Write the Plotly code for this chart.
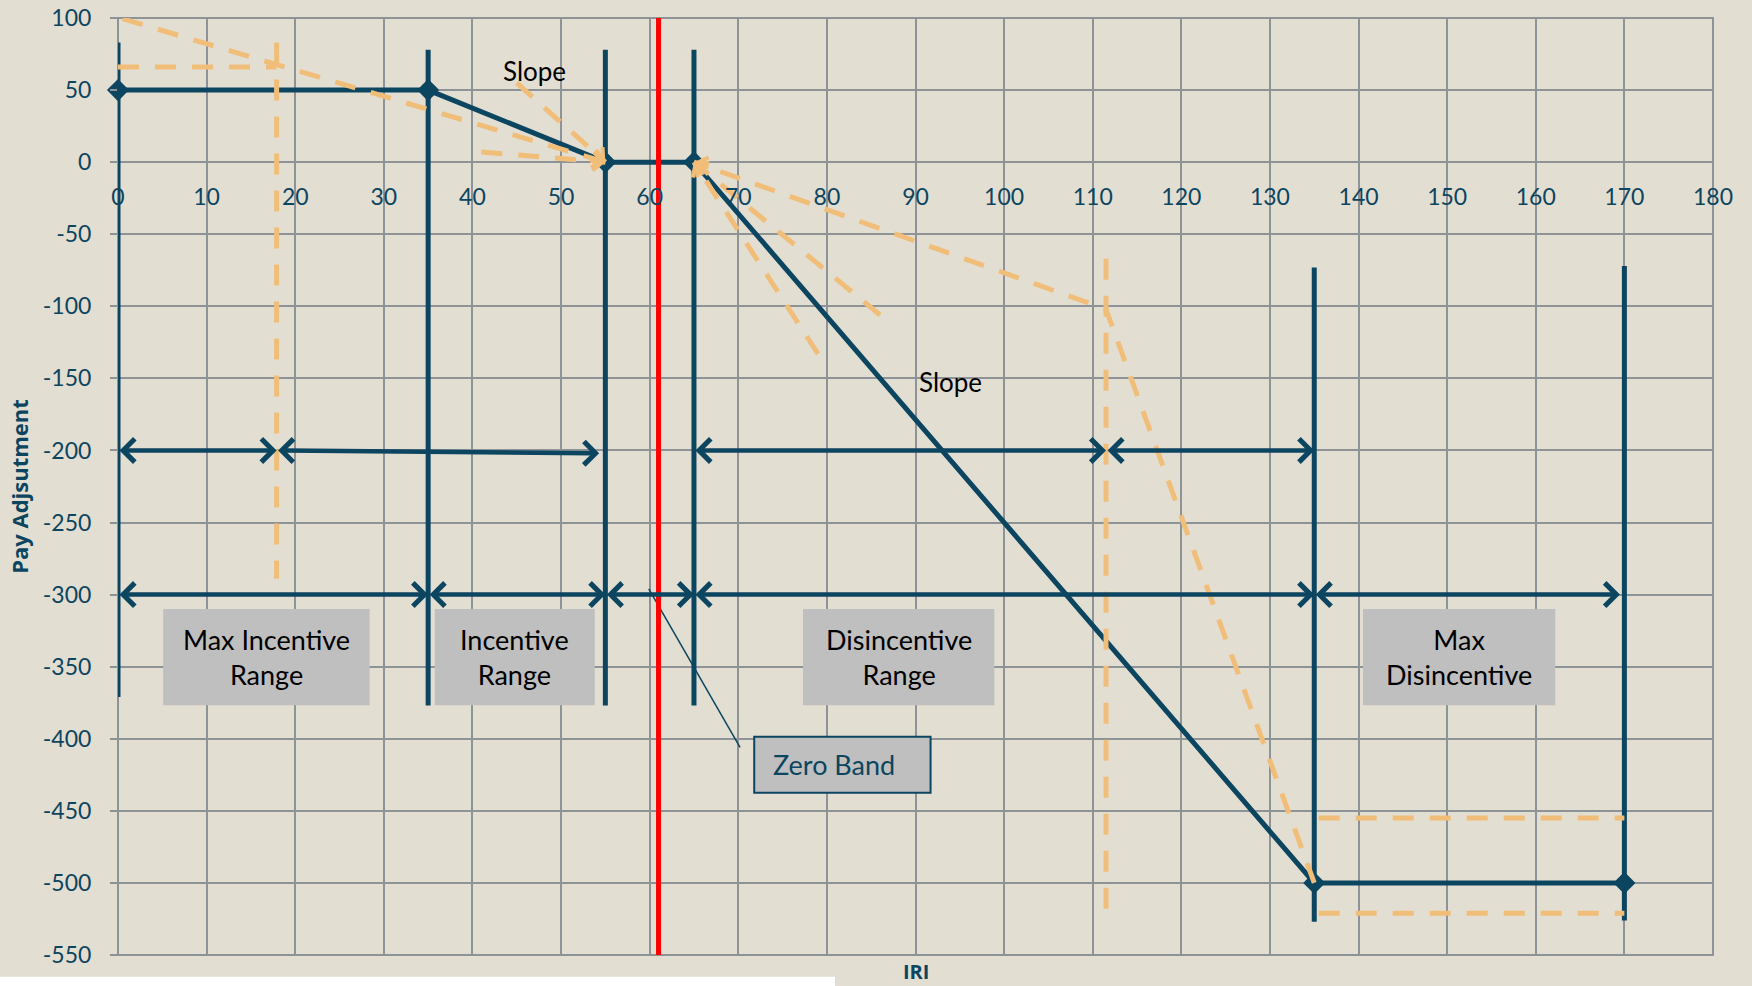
import math
import plotly.graph_objects as go

# ---------------- data ----------------
# pay adjustment schedule (IRI -> pay adjustment)
schedule_iri = [0, 35, 55, 65, 135, 170]
schedule_pay = [50, 50, 0, 0, -500, -500]

# vertical range boundary bars
bar_iri = [0, 35, 55, 65, 135, 170]
bar_top = [83, 78, 78, 78, -73, -72]
bar_bottom = [-371, -377, -377, -377, -527, -526]

# red reference line
red_iri = 61
red_pay = [100, -555]

# double arrows at -200
upper_arrow_start = [0, 17.9, 65, 111.5]
upper_arrow_end = [17.9, 54.3, 111.5, 135]
upper_arrow_pay_start = [-200, -200, -200, -200]
upper_arrow_pay_end = [-200, -202, -200, -200]

# double arrows at -300
lower_arrow_start = [0, 35, 55, 65, 135]
lower_arrow_end = [35, 55, 65, 135, 169.5]
lower_arrow_pay = -300

# orange dashed guide lines (last point = arrow tip where flagged)
guide_diag_incentive_x = [0.5, 55]
guide_diag_incentive_y = [99.5, 0]
guide_max_level_x = [0, 17.9]
guide_max_level_y = [66, 66]
guide_max_limit_x = [17.9, 17.9]
guide_max_limit_y = [83, -289]
guide_slope1_x = [45, 55]
guide_slope1_y = [55, 0]
guide_flat_x = [41, 55]
guide_flat_y = [7, 0]
guide_long_x = [135, 111.5, 65]
guide_long_y = [-500, -102, 0]
guide_steep_x = [79, 65]
guide_steep_y = [-133, 0]
guide_mid_x = [86, 65]
guide_mid_y = [-106, 0]
guide_dis_limit_x = [111.5, 111.5]
guide_dis_limit_y = [-67, -521]
guide_upper_band_x = [135.5, 170]
guide_upper_band_y = [-455, -455]
guide_lower_band_x = [135.5, 170]
guide_lower_band_y = [-521, -521]

guides = [
    (guide_diag_incentive_x, guide_diag_incentive_y, True),
    (guide_max_level_x, guide_max_level_y, False),
    (guide_max_limit_x, guide_max_limit_y, False),
    (guide_slope1_x, guide_slope1_y, True),
    (guide_flat_x, guide_flat_y, True),
    (guide_long_x, guide_long_y, True),
    (guide_steep_x, guide_steep_y, True),
    (guide_mid_x, guide_mid_y, True),
    (guide_dis_limit_x, guide_dis_limit_y, False),
    (guide_upper_band_x, guide_upper_band_y, False),
    (guide_lower_band_x, guide_lower_band_y, False),
]

# range label boxes
box_labels = ["Max Incentive<br>Range", "Incentive<br>Range", "Disincentive<br>Range", "Max<br>Disincentive"]
box_x0 = [5.1, 35.75, 77.3, 140.5]
box_x1 = [28.4, 53.8, 98.9, 162.2]
box_y0 = [-310, -310, -310, -310]
box_y1 = [-376.7, -376.7, -376.7, -376.7]

zero_label = "Zero Band"
zero_box_x = [71.8, 91.7]
zero_box_y = [-398.6, -437.4]
zero_leader_x = [59.9, 70.2]
zero_leader_y = [-296, -406]

slope_labels = ["Slope", "Slope"]
slope_x = [47.0, 94.0]
slope_y = [63, -152.5]

x_ticks = list(range(0, 181, 10))
y_ticks = list(range(-550, 101, 50))
y_tick_text = [str(v) for v in y_ticks]

# ---------------- style ----------------
W, H = 1752, 986
ML, MR, MT, MB = 118, 39, 18, 31
BG = "#E3DED2"
GRID = "#8E9398"
TEAL = "#0C4560"
ORANGE = "rgb(241,190,122)"
XR = [0, 180]
YR = [-550, 100]
PW, PH = W - ML - MR, H - MT - MB
px_x = PW / (XR[1] - XR[0])
px_y = PH / (YR[1] - YR[0])

fig = go.Figure()

# boundary bars
bx, by = [], []
for xv, t, b in zip(bar_iri, bar_top, bar_bottom):
    bx += [xv, xv, None]
    by += [t, b, None]
fig.add_trace(go.Scatter(x=bx, y=by, mode="lines", line=dict(color=TEAL, width=5), hoverinfo="skip"))

# main schedule
fig.add_trace(go.Scatter(x=schedule_iri, y=schedule_pay, mode="lines+markers",
                         line=dict(color=TEAL, width=5), cliponaxis=False,
                         marker=dict(symbol="diamond", size=17, color=TEAL)))

# leader line for zero band
fig.add_trace(go.Scatter(x=zero_leader_x, y=zero_leader_y, mode="lines",
                         line=dict(color=TEAL, width=1.5), hoverinfo="skip"))

# orange guides
for gx, gy, head in guides:
    fig.add_trace(go.Scatter(x=gx, y=gy, mode="lines",
                             line=dict(color=ORANGE, width=5, dash="21px,16px"), hoverinfo="skip"))

# red line
fig.add_trace(go.Scatter(x=[red_iri, red_iri], y=red_pay, mode="lines",
                         line=dict(color="#FF0000", width=5), hoverinfo="skip"))

# orange arrow heads
for gx, gy, head in guides:
    if not head:
        continue
    tx, ty = gx[-1], gy[-1]
    dxp = (gx[-2] - tx) * px_x
    dyp = (gy[-2] - ty) * px_y
    n = math.hypot(dxp, dyp)
    ax = tx + 10 * dxp / n / px_x
    ay = ty + 10 * dyp / n / px_y
    fig.add_annotation(x=tx, y=ty, ax=ax, ay=ay, xref="x", yref="y", axref="x", ayref="y",
                       text="", showarrow=True, arrowhead=4, arrowsize=0.9, arrowwidth=4,
                       arrowcolor=ORANGE, standoff=0)

# dark double arrows
def dbl(x0, y0, x1, y1):
    fig.add_annotation(x=x1, y=y1, ax=x0, ay=y0, xref="x", yref="y", axref="x", ayref="y",
                       text="", showarrow=True, arrowside="end+start",
                       arrowhead=4, startarrowhead=4, arrowsize=1, startarrowsize=1,
                       arrowwidth=4.5, arrowcolor=TEAL, standoff=0, startstandoff=0)

for s, e, ys, ye in zip(upper_arrow_start, upper_arrow_end, upper_arrow_pay_start, upper_arrow_pay_end):
    dbl(s, ys, e, ye)
for s, e in zip(lower_arrow_start, lower_arrow_end):
    dbl(s, lower_arrow_pay, e, lower_arrow_pay)

# boxes
shapes = []
for lab, x0, x1, y0, y1 in zip(box_labels, box_x0, box_x1, box_y0, box_y1):
    shapes.append(dict(type="rect", xref="x", yref="y", x0=x0, x1=x1, y0=y0, y1=y1,
                       fillcolor="#BFBFBF", line=dict(width=0), layer="above"))
    fig.add_annotation(x=(x0 + x1) / 2, y=(y0 + y1) / 2, xref="x", yref="y", text=lab,
                       showarrow=False, font=dict(family="Lato", size=27, color="#000000"))

shapes.append(dict(type="rect", xref="x", yref="y", x0=zero_box_x[0], x1=zero_box_x[1],
                   y0=zero_box_y[0], y1=zero_box_y[1], fillcolor="#BFBFBF",
                   line=dict(width=2, color=TEAL), layer="above"))
fig.add_annotation(x=(zero_box_x[0] + zero_box_x[1]) / 2 - 0.9, y=sum(zero_box_y) / 2, xref="x", yref="y",
                   text=zero_label, showarrow=False, font=dict(family="Lato", size=27, color=TEAL))

for lab, sx, sy in zip(slope_labels, slope_x, slope_y):
    fig.add_annotation(x=sx, y=sy, xref="x", yref="y", text=lab, showarrow=False,
                       font=dict(family="Lato", size=26, color="#000000"))

# plot frame
shapes.append(dict(type="rect", xref="paper", yref="paper", x0=0, x1=1, y0=0, y1=1,
                   line=dict(color=GRID, width=2), fillcolor="rgba(0,0,0,0)", layer="below"))
# white strip at bottom-left of the picture
shapes.append(dict(type="rect", xref="paper", yref="paper", x0=-ML / PW, x1=(835 - ML) / PW,
                   y0=-0.0232, y1=-0.06, fillcolor="#FFFFFF", line=dict(width=0), layer="above"))

# x-axis title (at bottom)
fig.add_annotation(x=0.5, y=-MB / PH, xref="paper", yref="paper", yanchor="bottom", text="<b>IRI</b>",
                   showarrow=False, borderpad=0, font=dict(family="Open Sans", size=20, color=TEAL))

fig.update_layout(
    width=W, height=H,
    margin=dict(l=ML, r=MR, t=MT, b=MB, pad=0),
    paper_bgcolor=BG, plot_bgcolor=BG,
    showlegend=False,
    shapes=shapes,
    xaxis=dict(range=XR, tickvals=x_ticks, showgrid=True, gridcolor=GRID, gridwidth=2,
               zeroline=False, showline=False, anchor="free",
               position=(0 - YR[0]) / (YR[1] - YR[0]), ticks="", automargin=False,
               tickfont=dict(family="Lato", size=23, color=TEAL), ticklabelstandoff=19),
    yaxis=dict(range=YR, tickvals=y_ticks, ticktext=y_tick_text, showgrid=True, gridcolor=GRID, gridwidth=2,
               zeroline=False, showline=False, ticks="outside", ticklen=7, tickwidth=2,
               tickcolor=GRID, automargin=False,
               tickfont=dict(family="Lato", size=23, color=TEAL), ticklabelstandoff=14,
               title=dict(text="<b>Pay Adjsutment</b>", standoff=8,
                          font=dict(family="Open Sans", size=22, color=TEAL))),
)

fig.write_html("out.html", config={"displayModeBar": False},
               post_script="document.body.style.margin='0';document.body.style.overflow='hidden';")
